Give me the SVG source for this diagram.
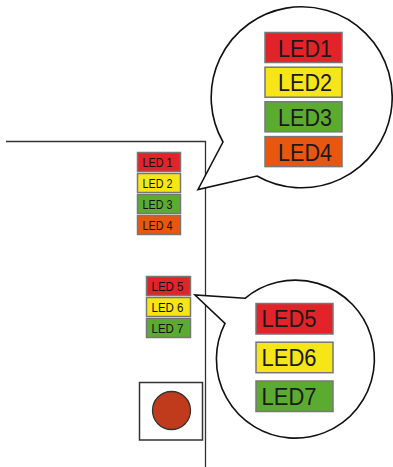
<svg xmlns="http://www.w3.org/2000/svg" width="393" height="467" viewBox="0 0 393 467">
<style>
.led{stroke:#777;stroke-width:1.5}
.red{fill:#e3232a}.yel{fill:#f6e617}.grn{fill:#5cab31}.org{fill:#e8560f}
.s{font-family:"Liberation Sans",Arial,sans-serif;font-size:13px;fill:#111}
.b{font-family:"Liberation Sans",Arial,sans-serif;font-size:23px;fill:#1a1a1a}
.bub{fill:#fff;stroke:#111;stroke-width:1.6;stroke-linejoin:miter}
</style>
<rect width="393" height="467" fill="#fff"/>
<g id="panel">
<path d="M6,141.5 H205.5 V467" fill="none" stroke="#333" stroke-width="1.3"/>
</g>
<g id="leds-small-1">
<rect class="led red" x="137.5" y="152.5" width="43" height="19"/>
<text class="s" x="142.5" y="167.3" textLength="30" lengthAdjust="spacingAndGlyphs">LED 1</text>
<rect class="led yel" x="137.5" y="173.5" width="43" height="19"/>
<text class="s" x="142.5" y="188.3" textLength="30" lengthAdjust="spacingAndGlyphs">LED 2</text>
<rect class="led grn" x="137.5" y="194.5" width="43" height="19"/>
<text class="s" x="142.5" y="209.3" textLength="30" lengthAdjust="spacingAndGlyphs">LED 3</text>
<rect class="led org" x="137.5" y="215.5" width="43" height="19"/>
<text class="s" x="142.5" y="230.3" textLength="30" lengthAdjust="spacingAndGlyphs">LED 4</text>
</g>
<g id="leds-small-2">
<rect class="led red" x="146.5" y="276.5" width="44" height="19"/>
<text class="s" x="151.5" y="290.8" textLength="32" lengthAdjust="spacingAndGlyphs">LED 5</text>
<rect class="led yel" x="146.5" y="297.5" width="44" height="19"/>
<text class="s" x="151.5" y="311.8" textLength="32" lengthAdjust="spacingAndGlyphs">LED 6</text>
<rect class="led grn" x="146.5" y="318.5" width="44" height="19"/>
<text class="s" x="151.5" y="332.8" textLength="32" lengthAdjust="spacingAndGlyphs">LED 7</text>
</g>
<g id="button">
<rect x="139.5" y="382.5" width="63" height="57.5" fill="#fff" stroke="#333" stroke-width="1.5"/>
<circle cx="171.5" cy="410.5" r="19" fill="#c03a1c" stroke="#333" stroke-width="1.3"/>
</g>
<g id="bubble-1">
<path class="bub" d="M223,142 L198,189.5 L257,176 A90.5,90.5 0 1 0 223,142 Z"/>
<rect class="led red" x="265" y="32.5" width="77" height="30"/>
<text class="b" x="278" y="56.5" textLength="54" lengthAdjust="spacingAndGlyphs">LED1</text>
<rect class="led yel" x="265" y="67.2" width="77" height="30"/>
<text class="b" x="278" y="91.2" textLength="54" lengthAdjust="spacingAndGlyphs">LED2</text>
<rect class="led grn" x="265" y="101.8" width="77" height="30"/>
<text class="b" x="278" y="125.8" textLength="54" lengthAdjust="spacingAndGlyphs">LED3</text>
<rect class="led org" x="265" y="136.6" width="77" height="30"/>
<text class="b" x="278" y="160.6" textLength="54" lengthAdjust="spacingAndGlyphs">LED4</text>
</g>
<g id="bubble-2">
<path class="bub" d="M245,298.3 L195,295 L225,323.3 A79,79 0 1 0 245,298.3 Z"/>
<rect class="led red" x="256" y="303.5" width="77" height="30.5"/>
<text class="b" x="261.5" y="327" textLength="55" lengthAdjust="spacingAndGlyphs">LED5</text>
<rect class="led yel" x="256" y="342.2" width="77" height="30.5"/>
<text class="b" x="261.5" y="365.7" textLength="55" lengthAdjust="spacingAndGlyphs">LED6</text>
<rect class="led grn" x="256" y="381" width="77" height="30.5"/>
<text class="b" x="261.5" y="404.5" textLength="55" lengthAdjust="spacingAndGlyphs">LED7</text>
</g>
</svg>
